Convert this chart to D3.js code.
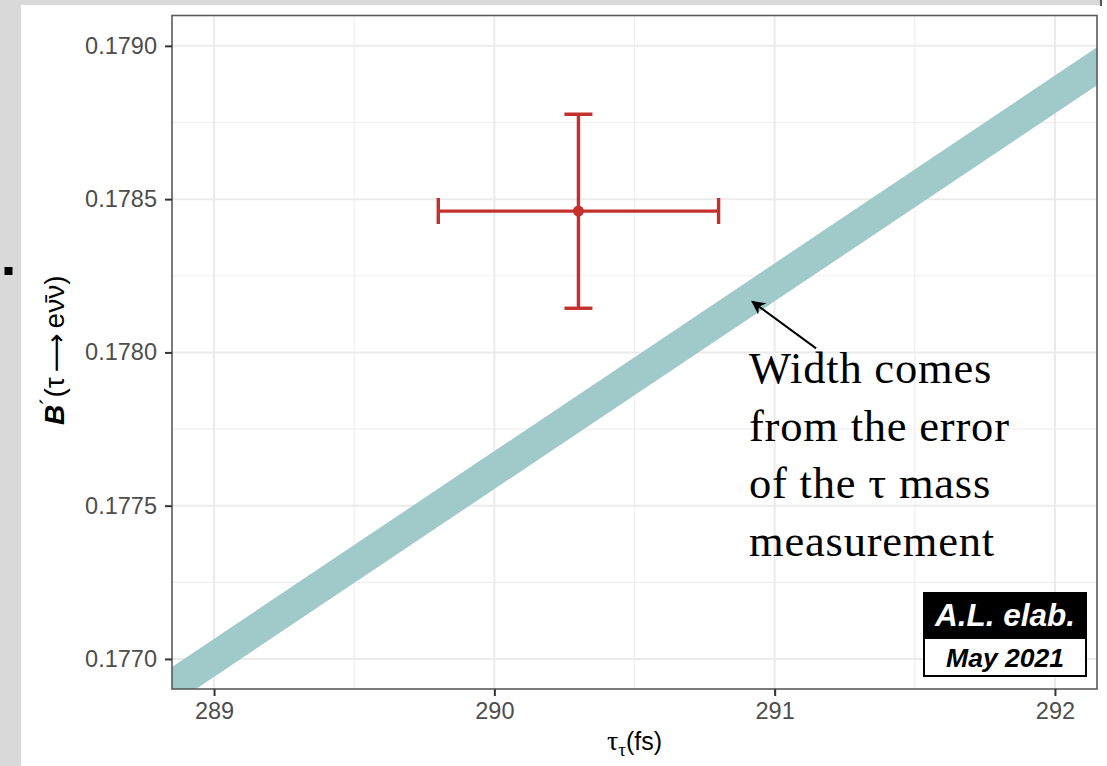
<!DOCTYPE html>
<html>
<head>
<meta charset="utf-8">
<script src="https://cdn.jsdelivr.net/npm/d3@7"></script>
<style>
  html, body { margin: 0; padding: 0; background: #ffffff; }
  svg { display: block; }
</style>
</head>
<body>
<svg id="chart" width="1107" height="766"></svg>
<script>
// ---------- data ----------
const xTicks = [289, 290, 291, 292];
const xTickLabels = ["289", "290", "291", "292"];
const yTicks = [0.1770, 0.1775, 0.1780, 0.1785, 0.1790];
const yTickLabels = ["0.1770", "0.1775", "0.1780", "0.1785", "0.1790"];
const xMinor = [289.5, 290.5, 291.5];
const yMinor = [0.17725, 0.17775, 0.17825, 0.17875];

// band (prediction from tau mass error)
const bandTau   = [288.80, 292.20];
const bandLower = [0.176819, 0.178902];
const bandUpper = [0.176943, 0.179026];

// measurement point with errors
const pointTau = [290.30];
const pointTauLo = [289.80];
const pointTauHi = [290.80];
const pointB = [0.178461];
const pointBLo = [0.178144];
const pointBHi = [0.178777];

// annotation
const annotLines = ["Width comes", "from the error", "of the \u03C4 mass", "measurement"];
const arrowFrom = [291.148, 0.178013];
const arrowTo   = [290.920, 0.178166];

// ---------- layout ----------
const svg = d3.select("#chart");
const P = { left: 172, right: 1097, top: 15.5, bottom: 689 };
const x = d3.scaleLinear().domain([288.85, 292.15]).range([P.left, P.right]);
const y = d3.scaleLinear().domain([0.176902, 0.179099]).range([P.bottom, P.top]);

// page background pieces
svg.append("rect").attr("x", 0).attr("y", 0).attr("width", 1107).attr("height", 766).attr("fill", "#ffffff");
svg.append("rect").attr("x", 0).attr("y", 0).attr("width", 21).attr("height", 766).attr("fill", "#d9d9d9");
svg.append("rect").attr("x", 0).attr("y", 0).attr("width", 1101).attr("height", 5).attr("fill", "#d9d9d9");
svg.append("rect").attr("x", 1100).attr("y", 0).attr("width", 2).attr("height", 6).attr("fill", "#555");
svg.append("rect").attr("x", 4.5).attr("y", 267).attr("width", 8).attr("height", 8).attr("fill", "#000");

const defs = svg.append("defs");
defs.append("clipPath").attr("id", "panelClip").append("rect")
  .attr("x", P.left).attr("y", P.top).attr("width", P.right - P.left).attr("height", P.bottom - P.top);
defs.append("marker").attr("id", "arrowHead").attr("viewBox", "0 0 10 10")
  .attr("refX", 9).attr("refY", 5).attr("markerWidth", 7).attr("markerHeight", 7)
  .attr("markerUnits", "strokeWidth").attr("orient", "auto")
  .append("path").attr("d", "M0,0 L10,5 L0,10 L3,5 Z").attr("fill", "#000");

const panel = svg.append("g").attr("clip-path", "url(#panelClip)");

// grid
panel.selectAll(".vminor").data(xMinor).enter().append("line")
  .attr("x1", d => x(d)).attr("x2", d => x(d)).attr("y1", P.top).attr("y2", P.bottom)
  .attr("stroke", "#f0f0f0").attr("stroke-width", 1.2);
panel.selectAll(".hminor").data(yMinor).enter().append("line")
  .attr("y1", d => y(d)).attr("y2", d => y(d)).attr("x1", P.left).attr("x2", P.right)
  .attr("stroke", "#f0f0f0").attr("stroke-width", 1.2);
panel.selectAll(".vmajor").data(xTicks).enter().append("line")
  .attr("x1", d => x(d)).attr("x2", d => x(d)).attr("y1", P.top).attr("y2", P.bottom)
  .attr("stroke", "#ebebeb").attr("stroke-width", 2);
panel.selectAll(".hmajor").data(yTicks).enter().append("line")
  .attr("y1", d => y(d)).attr("y2", d => y(d)).attr("x1", P.left).attr("x2", P.right)
  .attr("stroke", "#ebebeb").attr("stroke-width", 2);

// band
const bandData = bandTau.map((t, i) => ({ t, lo: bandLower[i], hi: bandUpper[i] }));
panel.append("path").datum(bandData)
  .attr("d", d3.area().x(d => x(d.t)).y0(d => y(d.lo)).y1(d => y(d.hi)))
  .attr("fill", "#a0c9c9");

// error bars
const red = "#c4302b";
const sw = 3.4;
const pts = pointTau.map((t, i) => ({ t, tl: pointTauLo[i], th: pointTauHi[i], b: pointB[i], bl: pointBLo[i], bh: pointBHi[i] }));
const eb = panel.selectAll(".pt").data(pts).enter().append("g");
eb.append("line").attr("x1", d => x(d.tl)).attr("x2", d => x(d.th)).attr("y1", d => y(d.b)).attr("y2", d => y(d.b))
  .attr("stroke", red).attr("stroke-width", sw);
eb.append("line").attr("x1", d => x(d.tl)).attr("x2", d => x(d.tl)).attr("y1", d => y(d.b) - 13).attr("y2", d => y(d.b) + 13)
  .attr("stroke", red).attr("stroke-width", sw);
eb.append("line").attr("x1", d => x(d.th)).attr("x2", d => x(d.th)).attr("y1", d => y(d.b) - 13).attr("y2", d => y(d.b) + 13)
  .attr("stroke", red).attr("stroke-width", sw);
eb.append("line").attr("x1", d => x(d.t)).attr("x2", d => x(d.t)).attr("y1", d => y(d.bl)).attr("y2", d => y(d.bh))
  .attr("stroke", red).attr("stroke-width", sw);
eb.append("line").attr("x1", d => x(d.t) - 14).attr("x2", d => x(d.t) + 14).attr("y1", d => y(d.bl)).attr("y2", d => y(d.bl))
  .attr("stroke", red).attr("stroke-width", sw);
eb.append("line").attr("x1", d => x(d.t) - 14).attr("x2", d => x(d.t) + 14).attr("y1", d => y(d.bh)).attr("y2", d => y(d.bh))
  .attr("stroke", red).attr("stroke-width", sw);
eb.append("circle").attr("cx", d => x(d.t)).attr("cy", d => y(d.b)).attr("r", 5.5).attr("fill", red);

// panel border
svg.append("rect").attr("x", P.left).attr("y", P.top).attr("width", P.right - P.left).attr("height", P.bottom - P.top)
  .attr("fill", "none").attr("stroke", "#5a5a5a").attr("stroke-width", 1.6);

// axes
const xAxis = svg.append("g").attr("transform", `translate(0,${P.bottom})`)
  .call(d3.axisBottom(x).tickValues(xTicks).tickFormat((d, i) => xTickLabels[i]).tickSize(7).tickPadding(6));
const yAxis = svg.append("g").attr("transform", `translate(${P.left},0)`)
  .call(d3.axisLeft(y).tickValues(yTicks).tickFormat((d, i) => yTickLabels[i]).tickSize(7).tickPadding(8));
[xAxis, yAxis].forEach(a => {
  a.select(".domain").remove();
  a.selectAll(".tick line").attr("stroke", "#333").attr("stroke-width", 2);
  a.selectAll(".tick text").attr("fill", "#4d4d4d").attr("font-family", "Liberation Sans, Arial, sans-serif").attr("font-size", 23.5);
});

// axis titles
const xt = svg.append("text").attr("x", (P.left + P.right) / 2).attr("y", 750).attr("text-anchor", "middle")
  .attr("font-family", "Liberation Sans, Arial, sans-serif").attr("font-size", 25).attr("fill", "#000");
xt.append("tspan").attr("font-family", "Liberation Serif, Times New Roman, serif").attr("font-size", 28).text("\u03C4");
xt.append("tspan").attr("font-family", "Liberation Serif, Times New Roman, serif").attr("font-size", 19).attr("dy", 6).text("\u03C4");
xt.append("tspan").attr("dy", -6).text("(fs)");

const yt = svg.append("text").attr("transform", `translate(64,${(P.top + P.bottom) / 2 - 2}) rotate(-90)`)
  .attr("text-anchor", "middle").attr("font-family", "Liberation Sans, Arial, sans-serif").attr("font-size", 28).attr("fill", "#000");
yt.append("tspan").attr("font-style", "italic").attr("font-weight", "bold").text("B");
yt.append("tspan").attr("dy", -8).attr("font-size", 22).text("\u00B4");
yt.append("tspan").attr("dy", 8).text("(\u03C4");
yt.append("tspan").attr("dx", 5).attr("dy", 1).attr("font-family", "DejaVu Sans, sans-serif").attr("font-size", 27).text("\u27F6");
yt.append("tspan").attr("dx", 5).attr("dy", -1).text("e\u03BD\u0304\u03BD)");

// annotation
svg.append("line").attr("x1", x(arrowFrom[0])).attr("y1", y(arrowFrom[1]))
  .attr("x2", x(arrowTo[0])).attr("y2", y(arrowTo[1]))
  .attr("stroke", "#000").attr("stroke-width", 2).attr("marker-end", "url(#arrowHead)");
const ann = svg.append("text").attr("font-family", "Liberation Serif, Times New Roman, serif").attr("font-size", 44.5)
  .attr("letter-spacing", 0.8).attr("fill", "#000");
annotLines.forEach((s, i) => {
  ann.append("tspan").attr("x", 749).attr("y", 383 + i * 57.5).text(s);
});

// label box
const bx = 923, by = 592, bw = 164;
svg.append("rect").attr("x", bx).attr("y", by).attr("width", bw).attr("height", 46).attr("fill", "#000");
svg.append("rect").attr("x", bx + 1).attr("y", by + 46).attr("width", bw - 2).attr("height", 38)
  .attr("fill", "#fff").attr("stroke", "#000").attr("stroke-width", 2);
svg.append("text").attr("x", bx + bw / 2).attr("y", by + 34).attr("text-anchor", "middle")
  .attr("font-family", "Liberation Sans, Arial, sans-serif").attr("font-weight", "bold").attr("font-style", "italic")
  .attr("font-size", 31.5).attr("fill", "#fff").text("A.L. elab.");
svg.append("text").attr("x", bx + bw / 2).attr("y", by + 75).attr("text-anchor", "middle")
  .attr("font-family", "Liberation Sans, Arial, sans-serif").attr("font-weight", "bold").attr("font-style", "italic")
  .attr("font-size", 26.5).attr("fill", "#000").text("May 2021");
</script>
</body>
</html>
